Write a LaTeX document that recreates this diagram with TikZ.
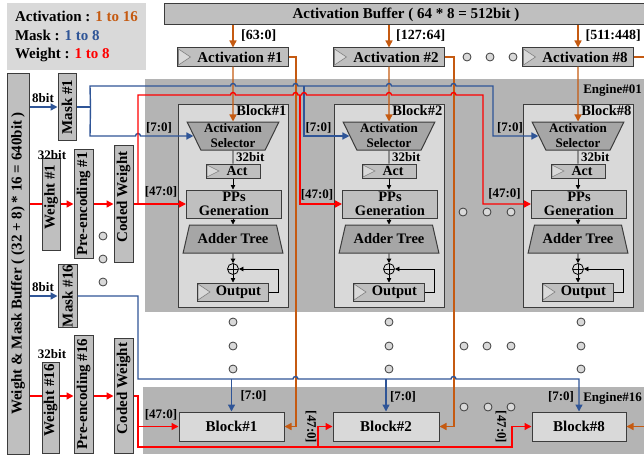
\documentclass[tikz,border=0pt]{standalone}
\usepackage{fontspec}
\setmainfont{Liberation Serif}
\usetikzlibrary{arrows.meta,shapes.geometric}

\definecolor{actorange}{RGB}{197,90,17}
\definecolor{maskblue}{RGB}{47,85,151}
\definecolor{wtred}{RGB}{255,0,0}
\definecolor{boxgray}{RGB}{191,191,191}
\definecolor{trapgray}{RGB}{166,166,166}
\definecolor{blockgray}{RGB}{217,217,217}
\definecolor{enggray}{RGB}{180,180,180}
\definecolor{edgegray}{RGB}{60,60,60}

\newcommand{\fbig}{\fontsize{15}{15}\selectfont}
\newcommand{\fmid}{\fontsize{14}{14}\selectfont}
\newcommand{\fsml}{\fontsize{13}{13}\selectfont}

\tikzset{
    unitbox/.style={draw=edgegray, fill=boxgray, line width=1pt, inner sep=0pt,
        font=\bfseries\fbig},
    clk/.style={path picture={
        \draw [draw=gray, fill=blockgray, line width=0.6pt]
            ([shift={(1pt,1pt)}]path picture bounding box.south west)
            -- ([shift={(1pt,-1pt)}]path picture bounding box.north west)
            -- ([shift={(13pt,0pt)}]path picture bounding box.west)
            -- cycle;}},
    trap/.style={trapezium, trapezium stretches=true, draw=edgegray,
        fill=trapgray, line width=1pt, inner sep=0pt, align=center},
    blockbox/.style={draw=edgegray, fill=blockgray, line width=1pt},
    keybox/.style={fill=blockgray, minimum width=139, minimum height=67,
        align=left, inner sep=0pt, font=\bfseries\fontsize{15}{18.5}\selectfont},
    lbl/.style={font=\bfseries\fsml, inner sep=1pt},
    actline/.style={draw=actorange, line width=1.4pt},
    maskline/.style={draw=maskblue, line width=1.4pt},
    wtline/.style={draw=wtred, line width=1.4pt},
    thinline/.style={draw=black, line width=0.8pt},
    atip/.style={-{Triangle[length=7pt,width=7pt]}},
    btip/.style={-{Triangle[length=4.5pt,width=4.5pt]}},
    gapdot/.style={circle, draw=edgegray, fill=blockgray, minimum size=8,
        inner sep=0pt, line width=0.8pt},
}

\begin{document}
\begin{tikzpicture}[x=1pt,y=-1pt]
    \useasboundingbox (0,0) rectangle (644,460);

    % engines
    \fill [enggray] (145,79) rectangle (650,312);
    \fill [enggray] (143,387) rectangle (650,454);
    \node [lbl, anchor=east] (eng01) at (643,90) {Engine\#01};
    \node [lbl, anchor=east] (eng16) at (643,398) {Engine\#16};

    % legend
    \node [keybox] (legend) at (76.5,36.5)
        {Activation : \textcolor{actorange}{1 to 16}\\
         Mask : \textcolor{maskblue}{1 to 8}\\
         Weight : \textcolor{wtred}{1 to 8}};

    % activation buffer and registers
    \node [unitbox, minimum width=484, minimum height=21] (abuf) at (406,14.5)
        {Activation Buffer ( 64 * 8 = 512bit )};
    \node [unitbox, clk, minimum width=111, minimum height=18] (areg1) at (233,57)
        {\hspace{14pt}Activation \#1};
    \node [unitbox, clk, minimum width=111, minimum height=18] (areg2) at (389,57)
        {\hspace{14pt}Activation \#2};
    \node [unitbox, clk, minimum width=111, minimum height=18] (areg8) at (578,57)
        {\hspace{14pt}Activation \#8};
    \foreach \k in {1,2,8}
        \draw [actline, atip] (areg\k.north |- abuf.south) -- (areg\k.north);
    \node [lbl, font=\bfseries\fmid, anchor=west] (rng1) at (240,36) {[63:0]};
    \node [lbl, font=\bfseries\fmid, anchor=west] (rng2) at (395,36) {[127:64]};
    \node [lbl, font=\bfseries\fmid, anchor=east] (rng8) at (642,36) {[511:448]};

    % weight and mask side
    \node [unitbox, rotate=90, minimum width=381, minimum height=22] (wmbuf) at (18,263.5)
        {Weight \& Mask Buffer ( (32 + 8) * 16 = 640bit )};
    \node [unitbox, rotate=90, minimum width=67, minimum height=18] (mask1) at (67,107)
        {Mask \#1};
    \node [unitbox, clk, rotate=90, minimum width=92, minimum height=18] (wt1) at (51,204)
        {\hspace{14pt}Weight \#1};
    \node [unitbox, rotate=90, minimum width=109, minimum height=19] (pre1) at (83.5,204)
        {Pre-encoding \#1};
    \node [unitbox, clk, rotate=90, minimum width=117, minimum height=19] (cw1) at (123.5,204)
        {\hspace{14pt}Coded Weight};
    \node [unitbox, rotate=90, minimum width=63, minimum height=19] (mask16) at (67.5,296)
        {Mask \#16};
    \node [unitbox, clk, rotate=90, minimum width=91, minimum height=17] (wt16) at (50.5,407.5)
        {\hspace{14pt}Weight \#16};
    \node [unitbox, rotate=90, minimum width=118, minimum height=19] (pre16) at (83.5,394)
        {Pre-encoding \#16};
    \node [unitbox, clk, rotate=90, minimum width=115, minimum height=19] (cw16) at (123.5,395.5)
        {\hspace{14pt}Coded Weight};
    \node [lbl, anchor=south] (mb1) at (43,104) {8bit};
    \node [lbl, anchor=south] (wb1) at (52,161) {32bit};
    \node [lbl, anchor=south] (mb16) at (43,293) {8bit};
    \node [lbl, anchor=south] (wb16) at (52,360) {32bit};

    % dots
    \foreach \px/\py in {467/57,490/57,513/57,463/212,487/212,511/212,
            103/236,103/259,103/282,464/346,487/346,511/346,
            464/407,488/407,511/407}
        \node [gapdot] (dot-\px-\py) at (\px,\py) {};
    \foreach \px in {233,389,581}
        \foreach \py in {322,346,369}
            \node [gapdot] (dot-\px-\py) at (\px,\py) {};

    % blocks of engine 01
    \foreach \k/\dx in {1/0,2/156,8/345} {
        \node [blockbox, minimum width=110, minimum height=203] (blk\k) at (233+\dx,205.5) {};
        \node [font=\bfseries\fontsize{14.5}{14.5}\selectfont, anchor=north east, inner sep=2pt]
            (blab\k) at (blk\k.north east) {Block\#\k};
        \node [trap, trapezium angle=117, minimum width=92, minimum height=28,
            font=\bfseries\fontsize{13}{15}\selectfont] (sel\k) at (233+\dx,136)
            {Activation\\Selector};
        \node [unitbox, clk, minimum width=54, minimum height=14, font=\bfseries\fmid]
            (act\k) at (233+\dx,171) {\hspace{8pt}Act};
        \node [unitbox, minimum width=95, minimum height=28, align=center,
            font=\bfseries\fontsize{14.5}{13.5}\selectfont] (ppg\k) at (234+\dx,204)
            {PPs\\Generation};
        \node [trap, trapezium angle=63, minimum width=100, minimum height=28,
            font=\bfseries\fontsize{14.5}{14.5}\selectfont] (add\k) at (233+\dx,239)
            {Adder Tree};
        \node [circle, draw, line width=0.8pt, minimum size=11, inner sep=0pt,
            path picture={\draw [line width=0.8pt]
                (path picture bounding box.north) -- (path picture bounding box.south)
                (path picture bounding box.west) -- (path picture bounding box.east);}]
            (sum\k) at (233+\dx,269) {};
        \node [unitbox, clk, minimum width=71, minimum height=18,
            font=\bfseries\fontsize{14.5}{14.5}\selectfont] (out\k) at (232.5+\dx,292)
            {\hspace{12pt}Output};
        \node [lbl, anchor=west] (bw\k) at (235+\dx,157) {32bit};

        \draw [thinline] (sel\k.south) -- (act\k.north);
        \draw [thinline, btip] (act\k.south) -- (act\k.south |- ppg\k.north);
        \draw [thinline, btip] (add\k.north |- ppg\k.south) -- (add\k.north);
        \draw [thinline, btip] (add\k.south) -- (sum\k.north);
        \draw [thinline, btip] (sum\k.south) -- (sum\k.south |- out\k.north);
        \draw [thinline, btip] (out\k.east) -- ++(10,0) |- (sum\k.east);
        \draw [actline, atip] (areg\k.south) -- (sel\k.north);
    }

    % blocks of engine 16
    \node [blockbox, minimum width=105, minimum height=29, font=\bfseries\fbig]
        (eb1) at (231.5,426.5) {Block\#1};
    \node [blockbox, minimum width=106, minimum height=29, font=\bfseries\fbig]
        (eb2) at (386,426.5) {Block\#2};
    \node [blockbox, minimum width=94, minimum height=29, font=\bfseries\fbig]
        (eb8) at (579,426.5) {Block\#8};

    % activation to engine 16
    \draw [actline, atip] (areg1.east) -- ++(7,0) |- (eb1.east);
    \draw [actline, atip] (areg2.east) -- ++(9,0) |- (eb2.east);
    \draw [actline] (areg8.east) -- ++(15,0);
    \coordinate (oedge) at (650,426.5);
    \draw [actline, atip] (oedge) -- (eb8.east);

    % masks of engine 01
    \draw [maskline, atip] (wmbuf.south |- mask1.center) -- (mask1.north);
    \draw [maskline] (mask1.south) -- ++(14,0) coordinate (mj1);
    \draw [maskline, atip] (mj1) -- (90,136) -- (135.5,136)
        arc [start angle=180, end angle=360, radius=2.5] -- (sel1.west);
    \draw [maskline, atip] (mj1) -- (90,86)
        -- (230.5,86) arc [start angle=180, end angle=360, radius=2.5]
        -- (293,86) arc [start angle=180, end angle=360, radius=2.5]
        -- (386.5,86) arc [start angle=180, end angle=360, radius=2.5]
        -- (451,86) arc [start angle=180, end angle=360, radius=2.5]
        -- (493,86) |- (sel8.west);
    \draw [maskline, atip] (304,86) |- (sel2.west);

    % weights of engine 01
    \draw [wtline] (wmbuf.south |- wt1.center) -- (wt1.north);
    \draw [wtline, atip] (wt1.south) -- (pre1.north);
    \draw [wtline, atip] (pre1.south) -- (cw1.north);
    \draw [wtline, atip] (cw1.south) -- (ppg1.west);
    \draw [wtline, atip] (138,204) -- (138,95)
        -- (230.5,95) arc [start angle=180, end angle=360, radius=2.5]
        -- (293,95) arc [start angle=180, end angle=360, radius=2.5]
        -- (301.5,95) arc [start angle=180, end angle=360, radius=2.5]
        -- (386.5,95) arc [start angle=180, end angle=360, radius=2.5]
        -- (451,95) arc [start angle=180, end angle=360, radius=2.5]
        -- (483,95) |- (ppg8.west);
    \draw [wtline, atip] (300,95) |- (ppg2.west);

    \node [lbl] (m1l1) at (159,128) {[7:0]};
    \node [lbl] (m1l2) at (318.5,128) {[7:0]};
    \node [lbl] (m1l8) at (510,128) {[7:0]};
    \node [lbl] (w1l1) at (161,192) {[47:0]};
    \node [lbl] (w1l2) at (317,195) {[47:0]};
    \node [lbl] (w1l8) at (504.5,194) {[47:0]};

    % masks of engine 16
    \draw [maskline, atip] (wmbuf.south |- mask16.center) -- (mask16.north);
    \draw [maskline, atip] (mask16.south) -- (138,296) -- (138,379)
        -- (293,379) arc [start angle=180, end angle=360, radius=2.5]
        -- (451,379) arc [start angle=180, end angle=360, radius=2.5]
        -| (eb8.north);
    \draw [maskline, atip] (eb1.north |- 0,379) -- (eb1.north);
    \draw [maskline, atip] (eb2.north |- 0,379) -- (eb2.north);

    % weights of engine 16
    \coordinate (w16y) at (0,396);
    \draw [wtline] (wmbuf.south |- w16y) -- (wt16.north |- w16y);
    \draw [wtline, atip] (wt16.south |- w16y) -- (pre16.north |- w16y);
    \draw [wtline, atip] (pre16.south |- w16y) -- (cw16.north |- w16y);
    \draw [wtline, atip] (cw16.south |- w16y) -- (138,396) -- (138,447)
        -- (512,447) |- (eb8.west);
    \draw [wtline, atip] (138,426.5) -- (eb1.west);
    \draw [wtline, atip] (318,447) |- (eb2.west);

    \node [lbl] (m16l1) at (253.5,396) {[7:0]};
    \node [lbl] (m16l2) at (403,397) {[7:0]};
    \node [lbl] (m16l8) at (561,397) {[7:0]};
    \node [lbl] (w16l1) at (161,415) {[47:0]};
    \node [lbl, rotate=-90] (w16l2) at (311,427) {[47:0]};
    \node [lbl, rotate=-90] (w16l8) at (501,427) {[47:0]};
\end{tikzpicture}
\end{document}
